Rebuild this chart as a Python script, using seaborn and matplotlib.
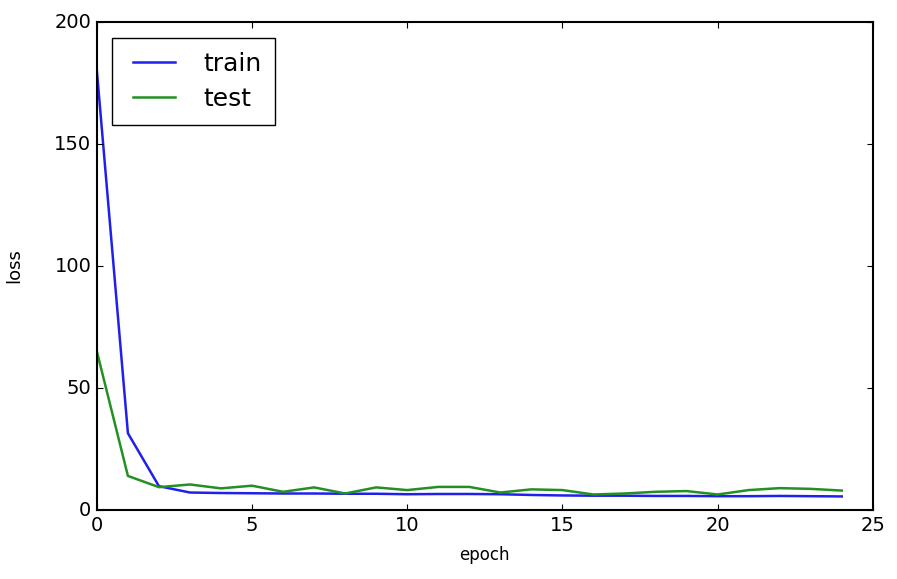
import matplotlib
matplotlib.use("Agg")
import matplotlib.pyplot as plt
import seaborn as sns
import pandas as pd

# loss per epoch
epochs = list(range(25))
train_loss = [180, 31.5, 9.8, 7.2, 7.0, 6.9, 6.8, 6.8, 6.7, 6.7, 6.5, 6.6, 6.6, 6.5, 6.2, 6.0, 5.9, 5.9, 5.8, 5.8, 5.7, 5.7, 5.8, 5.7, 5.6]
test_loss = [65, 14, 9.4, 10.5, 8.9, 10.0, 7.5, 9.3, 6.8, 9.3, 8.2, 9.5, 9.5, 7.2, 8.5, 8.2, 6.4, 6.8, 7.5, 7.8, 6.4, 8.2, 9.0, 8.7, 8.0]
series_names = ["train", "test"]

df = pd.DataFrame({
    "epoch": epochs * 2,
    "loss": train_loss + test_loss,
    "set": [series_names[0]] * len(epochs) + [series_names[1]] * len(epochs),
})

plt.style.use("classic")
fig = plt.figure(figsize=(8.97, 5.79), dpi=100, facecolor="white")
ax = fig.add_axes([0.108, 0.119, 0.865, 0.843])

sns.lineplot(data=df, x="epoch", y="loss", hue="set",
             palette={"train": "#2020ee", "test": "#239023"},
             linewidth=1.8, ax=ax)

ax.set_xlim(0, 25)
ax.set_ylim(0, 200)
ax.set_xticks([0, 5, 10, 15, 20, 25])
ax.set_yticks([0, 50, 100, 150, 200])
ax.tick_params(labelsize=14, width=0.8)
for sp in ax.spines.values():
    sp.set_linewidth(1.5)
ax.set_xlabel("epoch", fontsize=12, labelpad=8)
ax.set_ylabel("loss", fontsize=13, labelpad=22)
ax.legend(loc="upper left", fontsize=18, handlelength=2.3, frameon=True,
          fancybox=False, borderpad=0.55, labelspacing=0.45,
          bbox_to_anchor=(0.003, 0.993))

fig.savefig("out.png", dpi=100, facecolor="white")
